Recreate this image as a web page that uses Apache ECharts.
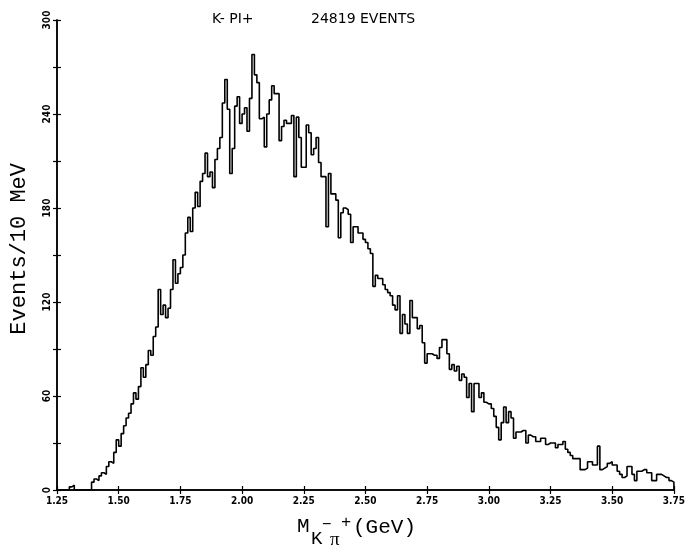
<!DOCTYPE html>
<html>
<head>
<meta charset="utf-8">
<script src="https://cdn.jsdelivr.net/npm/echarts@6/dist/echarts.min.js"></script>
<style>
html,body{margin:0;padding:0;background:#fff;}
#chart{width:688px;height:559px;}
</style>
</head>
<body>
<div id="chart"></div>
<script>
// Histogram: K- pi+ invariant mass, 10 MeV bins from 1.25 to 3.75 GeV
const binStart = 1.25;
const binWidth = 0.01;
const counts = [
  0,0,0,0,0,2,3,0,0,0,
  0,0,0,0,5,7,6,9,11,10,
  15,18,17,24,32,28,36,41,46,49,
  55,62,58,66,78,72,80,89,86,98,
  104,128,112,118,110,116,128,147,132,138,
  142,150,164,174,165,180,190,181,197,202,
  215,200,203,193,211,218,225,247,262,243,
  202,218,245,251,234,240,244,229,250,278,
  265,260,237,238,219,240,249,258,253,253,
  223,232,236,234,234,239,200,238,225,206,
  206,233,228,214,218,225,209,200,200,168,
  202,189,189,185,161,177,180,179,176,158,
  168,168,164,164,160,158,154,151,130,137,
  135,135,131,128,126,124,118,115,124,100,
  112,106,100,121,110,110,103,105,94,81,
  87,87,86,86,84,91,96,96,87,77,
  80,76,79,70,74,72,59,68,50,68,
  68,59,62,56,55,55,52,47,40,32,
  43,53,43,50,46,33,37,37,38,38,
  30,35,34,34,31,31,33,33,29,30,
  30,30,27,29,29,31,26,24,22,20,
  20,20,13,13,14,18,18,16,16,28,
  13,14,15,17,18,16,16,12,10,8,
  9,15,15,10,6,12,12,13,13,11,
  11,6,6,10,10,9,8,8,6,5
];
const xTicks = [1.25,1.50,1.75,2.00,2.25,2.50,2.75,3.00,3.25,3.50,3.75];
const yTicks = [0,60,120,180,240,300];
const titleLeft = 'K- PI+';
const titleRight = '24819 EVENTS';

const pts = counts.map((c,i)=>[+(binStart+i*binWidth).toFixed(2), c]);
pts.push([+(binStart+counts.length*binWidth).toFixed(2), 0]);

const chart = echarts.init(document.getElementById('chart'), null, {renderer:'canvas'});
const tickFont = {color:'#000', fontSize:10, fontWeight:'bold', fontFamily:'DejaVu Sans Condensed, DejaVu Sans'};
const xBase = {type:'value', min:1.25, max:3.75, interval:0.25, splitLine:{show:false}};
const yBase = {type:'value', min:0, max:300, interval:30, splitLine:{show:false}};
chart.setOption({
  backgroundColor:'#fff',
  animation:false,
  title:[
    {text:titleLeft, left:207, top:7, textStyle:{fontSize:14, fontWeight:'normal', color:'#000', fontFamily:'DejaVu Sans'}},
    {text:titleRight, left:306, top:7, textStyle:{fontSize:14, fontWeight:'normal', color:'#000', fontFamily:'DejaVu Sans'}}
  ],
  grid:{left:57, right:12, top:20, bottom:69, containLabel:false},
  xAxis:[
    {...xBase,
      axisLine:{onZero:false, lineStyle:{color:'#000', width:1.5}},
      axisTick:{show:true, length:4, lineStyle:{color:'#000', width:1.2}},
      axisLabel:{...tickFont, margin:6, formatter:v=>{
        const t = xTicks.find(x=>Math.abs(x-v)<1e-6); return t===undefined?'':t.toFixed(2);
      }}
    },
    {...xBase, position:'bottom', offset:0,
      axisLine:{show:true, onZero:false, lineStyle:{color:'#000', width:1.5}},
      axisTick:{show:true, inside:true, length:4, lineStyle:{color:'#000', width:1.2}},
      axisLabel:{show:false}
    }
  ],
  yAxis:[
    {...yBase,
      axisLine:{show:true, onZero:false, lineStyle:{color:'#000', width:1.5}},
      axisTick:{show:true, length:4, lineStyle:{color:'#000', width:1.2}},
      axisLabel:{...tickFont, rotate:90, margin:5, formatter:v=>yTicks.includes(v)?String(v):''}
    },
    {...yBase, position:'left', offset:0,
      axisLine:{show:true, onZero:false, lineStyle:{color:'#000', width:1.5}},
      axisTick:{show:true, inside:true, length:4, lineStyle:{color:'#000', width:1.2}},
      axisLabel:{show:false}
    }
  ],
  graphic:[
    {type:'text', left:8, top:163, rotation:Math.PI/2, style:{text:'Events/10 MeV', fill:'#000', font:'22px "Liberation Mono", "DejaVu Sans Mono", monospace'}, originX:0, originY:0},
    {type:'text', left:297, top:516, style:{text:'M', fill:'#000', font:'21px "Liberation Mono", monospace'}},
    {type:'text', left:311, top:529, style:{text:'K', fill:'#000', font:'19px "Liberation Mono", monospace'}},
    {type:'text', left:322, top:517, style:{text:'−', fill:'#000', font:'16px "Liberation Mono", monospace'}},
    {type:'text', left:330, top:531, style:{text:'π', fill:'#000', font:'19px "Liberation Serif", serif'}},
    {type:'text', left:341, top:514, style:{text:'+', fill:'#000', font:'17px "Liberation Mono", monospace'}},
    {type:'text', left:353, top:517, style:{text:'(GeV)', fill:'#000', font:'21px "Liberation Mono", monospace'}}
  ],
  series:[
    {
      type:'line', step:'end', data:pts, symbol:'none', xAxisIndex:0, yAxisIndex:0,
      lineStyle:{color:'#000', width:1.6}
    },
    {
      type:'line', data:[], symbol:'none', xAxisIndex:1, yAxisIndex:1, silent:true
    }
  ]
});
</script>
</body>
</html>
